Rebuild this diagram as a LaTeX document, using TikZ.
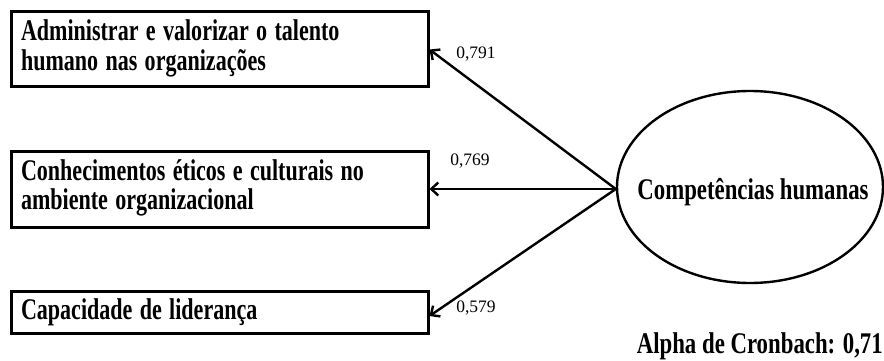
\documentclass[tikz,border=0pt]{standalone}
\usepackage{fontspec}
\setmainfont{Liberation Serif}
\usetikzlibrary{arrows.meta,shapes.geometric}
\newcommand\sqz[1]{\scalebox{0.735}[1]{#1}}
\newcommand\twolines[2]{\sqz{\begin{tabular}{@{}l@{}}#1\\#2\end{tabular}}}
\begin{document}
\begin{tikzpicture}[x=1pt,y=-1pt,
  bigfont/.style={font=\bfseries\fontsize{30}{29}\selectfont},
  itembox/.style={draw,line width=3pt,rectangle,minimum width=417pt,inner xsep=10pt,inner ysep=0pt,
    text width=397pt,align=left,bigfont},
  latent/.style={draw,line width=2.4pt,ellipse,minimum width=266pt,minimum height=192pt,inner sep=0pt},
  load/.style={-{Straight Barb[length=7pt,width=13pt,line width=2.4pt]},line width=2.4pt},
  coef/.style={font=\fontsize{17.5}{18}\selectfont,inner sep=0pt}]
\useasboundingbox (0,0) rectangle (884,361);
\node[itembox,minimum height=75pt] (b1) at (219.5,49.5) {\twolines{Administrar e valorizar o talento}{humano nas organizações}};
\node[itembox,minimum height=76pt] (b2) at (219.5,189) {\twolines{Conhecimentos éticos e culturais no}{ambiente organizacional}};
\node[itembox,minimum height=42pt] (b3) at (219.5,312) {\sqz{Capacidade de liderança}};
\node[latent] (lat) at (750,187) {};
\node[bigfont,inner sep=0pt] (latxt) at (753,192) {\scalebox{0.76}[1]{Competências humanas}};
\draw[load] ([yshift=-2pt]lat.west) -- (b1.east);
\draw[load] ([yshift=-2pt]lat.west) -- (b2.east);
\draw[load] ([yshift=-2pt]lat.west) -- ([yshift=-4pt]b3.east);
\node[coef] (c1) at (476,54) {0,791};
\node[coef] (c2) at (470,161) {0,769};
\node[coef] (c3) at (476,308) {0,579};
\node[anchor=base east,inner sep=0pt,bigfont] (alpha) at (883,353) {\scalebox{0.76}[1]{Alpha de Cronbach: 0,71}};
\end{tikzpicture}
\end{document}
